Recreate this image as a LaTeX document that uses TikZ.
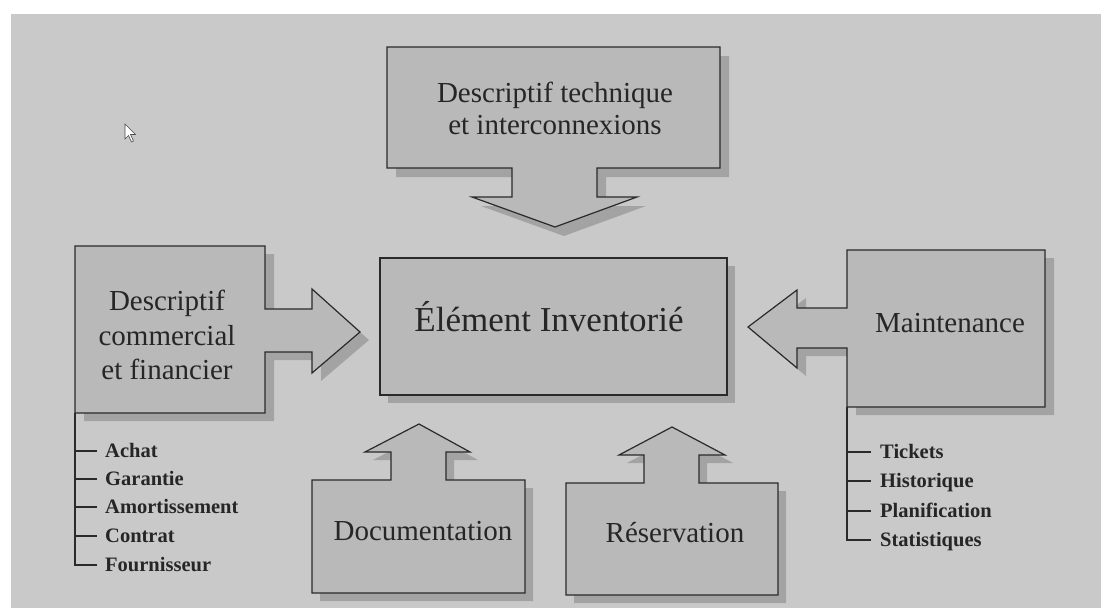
\documentclass[tikz,border=0pt]{standalone}
\usepackage{fontspec}
\setmainfont{Liberation Serif}
\definecolor{bgc}{HTML}{C9C9C9}
\definecolor{boxc}{HTML}{B9B9B9}
\definecolor{shc}{HTML}{A3A3A3}
\definecolor{linec}{HTML}{2A2A2A}
\begin{document}
\begin{tikzpicture}[x=1pt,y=-1pt,
  shadowfill/.style={fill=shc,draw=none},
  boxshape/.style={fill=boxc,draw=linec,line width=1.2pt,line join=miter},
  lbl/.style={font=\fontsize{29}{33}\selectfont,text=black!85,align=center,inner sep=0pt},
  item/.style={font=\bfseries\fontsize{20.5}{23}\selectfont,text=black!85,anchor=base west,inner sep=0pt},
  tree/.style={draw=linec,line width=1.1pt},
  toppath/.style={insert path={(387,47) -- (720,47) -- (720,168) -- (597,168) -- (597,197) -- (637,197) -- (555,227) -- (472,197) -- (512,197) -- (512,168) -- (387,168) -- cycle}},
  leftpath/.style={insert path={(75,246) -- (265,246) -- (265,309) -- (312,309) -- (312,289) -- (360,332) -- (312,373) -- (312,352) -- (265,352) -- (265,413) -- (75,413) -- cycle}},
  rightpath/.style={insert path={(847,250) -- (1045,250) -- (1045,407) -- (847,407) -- (847,348) -- (797,348) -- (797,368) -- (748,327) -- (797,290) -- (797,308) -- (847,308) -- cycle}},
  docpath/.style={insert path={(312,480) -- (391,480) -- (391,452) -- (365,452) -- (419,424) -- (470,452) -- (446,452) -- (446,480) -- (525,480) -- (525,593) -- (312,593) -- cycle}},
  respath/.style={insert path={(566,483) -- (644,483) -- (644,455) -- (619,455) -- (672,427) -- (725,455) -- (699,455) -- (699,483) -- (778,483) -- (778,595) -- (566,595) -- cycle}},
  centerpath/.style={insert path={(380,258) rectangle (727,395)}}
]
\useasboundingbox (0,0) rectangle (1101,608);
\fill[white] (0,0) rectangle (1101,608);
\fill[bgc] (11,14) rectangle (1101,608);

% shadows
\path[shadowfill,shift={(9,9)},toppath];
\path[shadowfill,shift={(9,8)},leftpath];
\path[shadowfill,shift={(9,8)},rightpath];
\path[shadowfill,shift={(8,8)},docpath];
\path[shadowfill,shift={(8,8)},respath];
\path[shadowfill,shift={(8,8)},centerpath];

% shapes
\path[boxshape,toppath];
\path[boxshape,leftpath];
\path[boxshape,rightpath];
\path[boxshape,docpath];
\path[boxshape,respath];
\path[boxshape,line width=1.7pt,centerpath];

% labels
\node[lbl] (tech) at (555,108) {Descriptif technique\\[-1pt]et interconnexions};
\node[lbl,font=\fontsize{35}{40}\selectfont,anchor=base] (elem) at (549,331) {Élément Inventorié};
\node[lbl,font=\fontsize{29}{34.5}\selectfont] (comm) at (167,335) {Descriptif\\commercial\\et financier};
\node[lbl,anchor=base] (maint) at (950,332) {Maintenance};
\node[lbl,anchor=base] (doc) at (423,540) {Documentation};
\node[lbl,anchor=base] (resa) at (675,542) {Réservation};

% left list
\coordinate (lt) at (75,413);
\node[item] (achat) at (105,457) {Achat};
\node[item] (garantie) at (105,485) {Garantie};
\node[item] (amort) at (105,513) {Amortissement};
\node[item] (contrat) at (105,542) {Contrat};
\node[item] (fourn) at (105,571) {Fournisseur};
\draw[tree] (lt) -- ([yshift=6pt]lt |- fourn.base) -- ([xshift=-8pt,yshift=6pt]fourn.base west);
\foreach \n in {achat,garantie,amort,contrat}
  \draw[tree] ([yshift=6pt]lt |- \n.base) -- ([xshift=-8pt,yshift=6pt]\n.base west);

% right list
\coordinate (rt) at (847,407);
\node[item] (tickets) at (880,458) {Tickets};
\node[item] (histo) at (880,487) {Historique};
\node[item] (plan) at (880,517) {Planification};
\node[item] (stats) at (880,546) {Statistiques};
\draw[tree] (rt) -- ([yshift=6pt]rt |- stats.base) -- ([xshift=-9pt,yshift=6pt]stats.base west);
\foreach \n in {tickets,histo,plan}
  \draw[tree] ([yshift=6pt]rt |- \n.base) -- ([xshift=-9pt,yshift=6pt]\n.base west);

% mouse cursor
\draw[fill=white,draw=black!70,line width=0.6pt] (125,124) -- (125,139) -- (128.5,135.5) -- (131.5,142) -- (133.5,141) -- (130.5,134.5) -- (135.5,134.5) -- cycle;
\end{tikzpicture}
\end{document}
